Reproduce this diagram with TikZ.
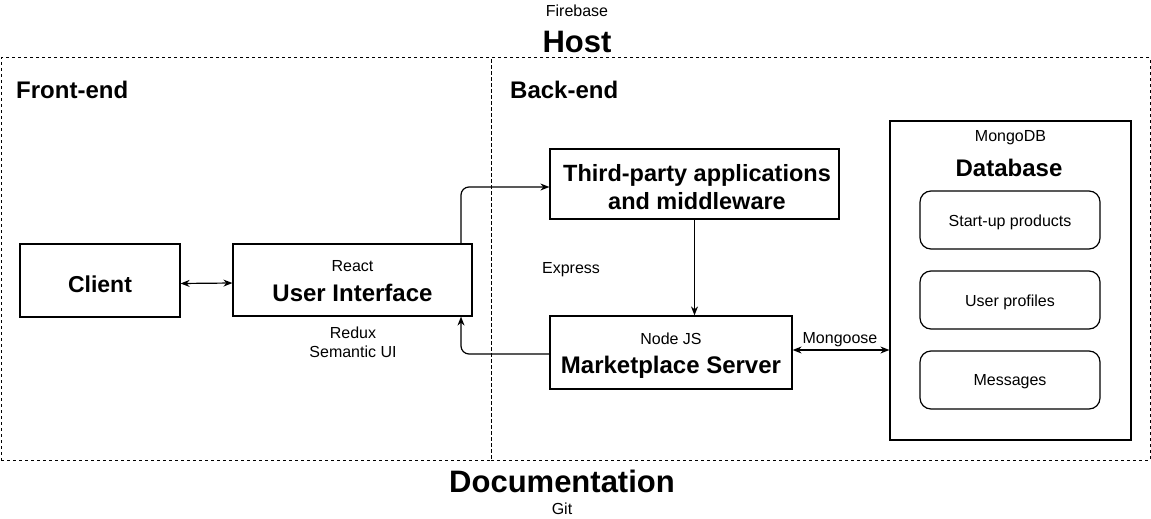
\documentclass[tikz,border=0pt]{standalone}
\usepackage{fontspec}
\setmainfont{Liberation Sans}
\usetikzlibrary{arrows.meta,calc}
\tikzset{
  box/.style={draw, line width=1.2pt, inner sep=0pt},
  zone/.style={draw, line width=1pt, dash pattern=on 3pt off 3pt, inner sep=0pt},
  item/.style={draw, line width=1.2pt, rounded corners=11pt, inner sep=0pt, minimum width=180pt, minimum height=58pt},
  itemtext/.style={font=\fontsize{16}{19}\selectfont, inner sep=0pt},
  small/.style={font=\fontsize{16}{19}\selectfont, inner sep=0pt},
  big/.style={font=\fontsize{24}{29}\selectfont\bfseries, inner sep=0pt},
  huge/.style={font=\fontsize{31}{37}\selectfont\bfseries, inner sep=0pt},
  conn/.style={line width=1.2pt, -{Stealth[length=9pt,width=7pt]}},
  biconn/.style={line width=1.2pt, {Stealth[length=9pt,width=7pt]}-{Stealth[length=9pt,width=7pt]}},
}
\begin{document}
\begin{tikzpicture}[x=1pt,y=-1pt]
\useasboundingbox (0,0) rectangle (1151,519);
% zones
\node[zone, minimum width=490pt, minimum height=402pt] (front) at (246,259) {};
\node[zone, minimum width=659pt, minimum height=402pt] (back) at (820.5,259) {};
\node[small] (firebase) at (577,11) {Firebase};
\node[huge] (host) at (577,42) {Host};
\node[big, anchor=west] (frontlbl) at (16,90) {Front-end};
\node[big, anchor=west] (backlbl) at (510,90) {Back-end};
\node[huge] (doc) at (562,481) {Documentation};
\node[small] (git) at (562,509) {Git};
% boxes
\node[box, minimum width=160pt, minimum height=73pt] (client) at (100,280.5) {};
\node[font=\fontsize{23}{28}\selectfont\bfseries, inner sep=0pt] (clientlbl) at (100,284) {Client};
\node[box, minimum width=239pt, minimum height=72pt] (ui) at (352.5,280) {};
\node[small] (react) at (352.5,266) {React};
\node[big] (uilbl) at (352.5,293) {User Interface};
\node[small, align=center] (redux) at (353,342) {Redux\\Semantic UI};
\node[box, minimum width=289pt, minimum height=70pt] (third) at (694.5,184) {};
\node[font=\fontsize{23.5}{28}\selectfont\bfseries, align=center, inner sep=0pt] (thirdlbl) at (697,187) {Third-party applications\\and middleware};
\node[small] (express) at (571,270) {Express};
\node[box, minimum width=242pt, minimum height=73pt] (market) at (671,352.5) {};
\node[small] (node) at (671,339) {Node JS};
\node[big] (marketlbl) at (671,367) {Marketplace Server};
\node[small] (mongoose) at (840,340) {Mongoose};
\node[box, minimum width=241pt, minimum height=319pt] (db) at (1010.5,280.5) {};
\node[small] (mongodb) at (1010.5,138) {MongoDB};
\node[big] (dblbl) at (1009,168) {Database};
\node[item] (prod) at (1010,220) {};
\node[itemtext] at (1010,222) {Start-up products};
\node[item] (users) at (1010,300) {};
\node[itemtext] at (1010,302) {User profiles};
\node[item] (msgs) at (1010,380) {};
\node[itemtext] at (1010,382) {Messages};
% connectors
\draw[biconn] ([yshift=-3pt]client.east) -- ([yshift=-3pt]ui.west);
\draw[conn, rounded corners=8pt] ([xshift=108.5pt]ui.north) |- ([yshift=-3pt]third.west);
\draw[conn] (third.south) -- (third.south |- market.north);
\draw[conn, rounded corners=8pt] ([yshift=-1.5pt]market.west) -| ([xshift=108.5pt]ui.south);
\draw[biconn] ([yshift=2.5pt]market.east) -- ([yshift=2.5pt]market.east -| db.west);
\end{tikzpicture}
\end{document}
